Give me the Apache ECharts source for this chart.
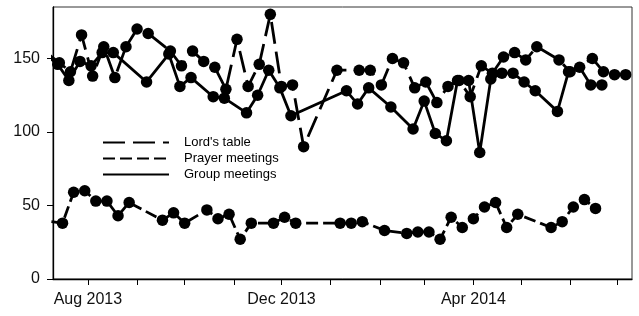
<!DOCTYPE html>
<html lang="en">
<head>
  <meta charset="UTF-8">
  <title>Meeting attendance</title>
  <script src="https://cdn.jsdelivr.net/npm/echarts@6/dist/echarts.min.js"></script>
  <style>
    html, body { margin: 0; padding: 0; background: #fff; }
    #chart { width: 639px; height: 316px; }
  </style>
</head>
<body>
  <div id="chart"></div>
<script>
  // weekly counts, gaps are just missing weeks
  const lordsDates = ['2013-07-07','2013-07-14','2013-07-21','2013-07-28','2013-08-04','2013-08-11','2013-08-18','2013-08-25','2013-09-01','2013-09-08','2013-09-22','2013-09-29','2013-10-06','2013-10-13','2013-10-20','2013-10-27','2013-11-03','2013-11-10','2013-11-17','2013-11-24','2013-12-01','2013-12-08','2013-12-15','2014-01-05','2014-01-19','2014-01-26','2014-02-02','2014-02-09','2014-02-16','2014-02-23','2014-03-02','2014-03-09','2014-03-16','2014-03-23','2014-03-30','2014-04-06','2014-04-13','2014-04-20','2014-04-27','2014-05-04','2014-05-11','2014-05-25','2014-06-01','2014-06-15','2014-06-22','2014-06-29','2014-07-06'];
  const lordsValues = [153,147,141,166,138,158,137,158,170,167,155,145,155,148,144,129,163,131,146,180,131,132,90,142,142,142,132,150,147,130,134,120,131,135,124,145,140,151,154,149,158,149,141,150,141,139,139];

  const prayerDates = ['2013-07-09','2013-07-16','2013-07-23','2013-07-30','2013-08-06','2013-08-13','2013-08-20','2013-08-27','2013-09-17','2013-09-24','2013-10-01','2013-10-15','2013-10-22','2013-10-29','2013-11-05','2013-11-12','2013-11-26','2013-12-03','2013-12-10','2014-01-07','2014-01-14','2014-01-21','2014-02-04','2014-02-18','2014-02-25','2014-03-04','2014-03-11','2014-03-18','2014-03-25','2014-04-01','2014-04-08','2014-04-15','2014-04-22','2014-04-29','2014-05-20','2014-05-27','2014-06-03','2014-06-10','2014-06-17'];
  const prayerValues = [39,38,59,60,53,53,43,52,40,45,38,47,41,44,27,38,38,42,38,38,38,39,33,31,32,32,27,42,35,41,49,52,35,44,35,39,49,54,48];

  const groupDates = ['2013-07-06','2013-07-13','2013-07-20','2013-07-27','2013-08-03','2013-08-10','2013-08-17','2013-09-07','2013-09-21','2013-09-28','2013-10-05','2013-10-19','2013-10-26','2013-11-09','2013-11-16','2013-11-23','2013-11-30','2013-12-07','2014-01-11','2014-01-18','2014-01-25','2014-02-08','2014-02-22','2014-03-01','2014-03-08','2014-03-15','2014-03-22','2014-03-29','2014-04-05','2014-04-12','2014-04-19','2014-04-26','2014-05-03','2014-05-10','2014-05-24','2014-05-31','2014-06-07','2014-06-14','2014-06-21'];
  const groupValues = [152,146,135,148,145,154,154,134,153,131,137,124,123,113,125,142,130,111,128,119,130,117,102,121,99,94,135,135,86,136,140,140,134,128,114,141,144,132,132];

  const monthTicks = ['2013-08-01','2013-09-01','2013-10-01','2013-11-01','2013-12-01','2014-01-01','2014-02-01','2014-03-01','2014-04-01','2014-05-01','2014-06-01','2014-07-01'];
  const labelDates = ['2013-08-01','2013-12-01','2014-04-01'];
  const labelTexts = ['Aug 2013','Dec 2013','Apr 2014'];
  const yTicks = [0, 50, 100, 150];

  // dates as day numbers (UTC), so the x axis is a plain value axis
  function toDay(s) {
    const p = s.split('-').map(Number);
    return Date.UTC(p[0], p[1] - 1, p[2]) / 86400000;
  }
  function pairs(dates, values) {
    return dates.map((d, i) => [toDay(d), values[i]]);
  }

  const font = 'Liberation Sans, Arial, sans-serif';
  const chart = echarts.init(document.getElementById('chart'));

  function lineSeries(name, dates, values, dash) {
    return {
      name: name,
      type: 'line',
      data: pairs(dates, values),
      symbol: 'circle',
      symbolSize: 11.5,
      clip: true,
      itemStyle: { color: '#000' },
      lineStyle: { color: '#000', width: 2.8, type: dash },
      emphasis: { disabled: true }
    };
  }

  const labelDays = labelDates.map(toDay);

  chart.setOption({
    animation: false,
    grid: {
      left: 53, right: 7, top: 7, bottom: 37,
      show: true, borderColor: '#333', borderWidth: 1
    },
    legend: {
      orient: 'vertical',
      left: 97,
      top: 131,
      itemWidth: 66,
      itemHeight: 14,
      itemGap: 3,
      itemStyle: { opacity: 0 },
      textStyle: { fontFamily: font, fontSize: 13, color: '#000', padding: [0, 0, 0, 10] },
      data: ["Lord's table", 'Prayer meetings', 'Group meetings']
    },
    xAxis: {
      type: 'value',
      min: toDay('2013-07-10'),
      max: toDay('2014-07-10'),
      axisLine: { lineStyle: { color: '#000', width: 1.3 } },
      axisTick: {
        show: true, inside: false, length: 6,
        lineStyle: { color: '#000', width: 1 },
        customValues: monthTicks.map(toDay)
      },
      axisLabel: {
        margin: 13,
        fontFamily: font, fontSize: 16, color: '#111',
        customValues: labelDays,
        formatter: function (val) {
          const i = labelDays.indexOf(val);
          return i >= 0 ? labelTexts[i] : '';
        }
      },
      splitLine: { show: false }
    },
    yAxis: {
      type: 'value',
      min: 0,
      max: 185,
      axisLine: { show: true, lineStyle: { color: '#000', width: 1.3 } },
      axisTick: {
        show: true, inside: false, length: 6,
        lineStyle: { color: '#000', width: 1 },
        customValues: yTicks
      },
      axisLabel: {
        margin: 13,
        fontFamily: font, fontSize: 16, color: '#111',
        customValues: yTicks
      },
      splitLine: { show: false }
    },
    series: [
      lineSeries("Lord's table", lordsDates, lordsValues, [22, 8]),
      lineSeries('Prayer meetings', prayerDates, prayerValues, [12, 5]),
      lineSeries('Group meetings', groupDates, groupValues, 'solid')
    ]
  });
</script>
</body>
</html>
